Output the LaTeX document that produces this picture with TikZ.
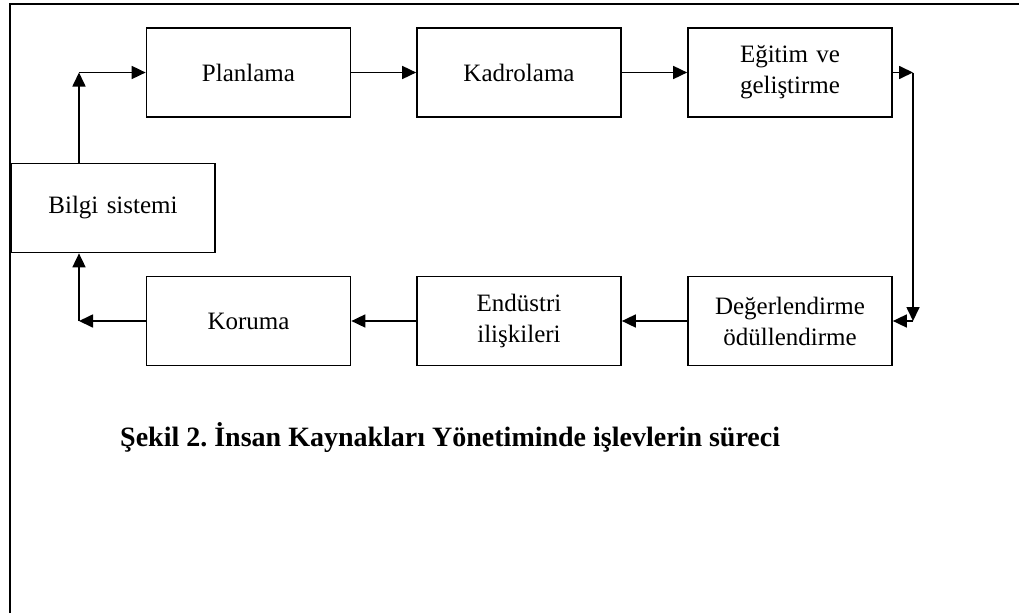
\documentclass[tikz,border=0pt]{standalone}
\usepackage{fontspec}
\setmainfont{Liberation Serif}
\usetikzlibrary{arrows.meta}
\frenchspacing

\tikzset{
  stepbox/.style={draw, line width=1.7pt, minimum width=204pt, minimum height=89pt,
    text width=190pt, align=center, font=\fontsize{25}{31}\selectfont},
  flow/.style={line width=1.7pt, ->}
}

\begin{document}
\begin{tikzpicture}[x=1pt,y=-1pt,>={Triangle[length=14pt,width=13pt]},
    every text node part/.style={align=center}]
    \useasboundingbox (0,0) rectangle (1019,613);

    % --------------------------------------------------------- %
    % ------------- frame
    % --------------------------------------------------------- %
    \draw[line width=2pt] (10,613) -- (10,4) -- (1019,4);

    % --------------------------------------------------------- %
    % ------------- top row
    % --------------------------------------------------------- %
    \node[stepbox] (bilgi) at (113,208) {Bilgi sistemi};
    \node[stepbox] (plan) at (248.5,72.5) {Planlama};
    \node[stepbox] (kadro) at (519,72.5) {Kadrolama};
    \node[stepbox] (egitim) at (790,72.5) {Eğitim ve\\geliştirme};

    % --------------------------------------------------------- %
    % ------------- bottom row
    % --------------------------------------------------------- %
    \node[stepbox] (koruma) at (248.5,321) {Koruma};
    \node[stepbox] (endustri) at (519,321) {Endüstri\\ilişkileri};
    \node[stepbox] (deger) at (790,321) {Değerlendirme\\ödüllendirme};

    % --- corners of the loop
    \coordinate (c1) at (79,72.5);
    \coordinate (c2) at (913,72.5);
    \coordinate (c3) at (913,321);
    \coordinate (c4) at (79,321);

    % --------------------------------------------------------- %
    % ------------- connectors
    % --------------------------------------------------------- %
    \draw[flow] (c1 |- bilgi.north) -- (c1);
    \draw[flow] (c1) -- (plan);
    \draw[flow] (plan) -- (kadro);
    \draw[flow] (kadro) -- (egitim);
    \draw[flow] (egitim) -- (c2);
    \draw[flow] (c2) -- (c3);
    \draw[flow] (c3) -- (deger);
    \draw[flow] (deger) -- (endustri);
    \draw[flow] (endustri) -- (koruma);
    \draw[flow] (koruma) -- (c4);
    \draw[flow] (c4) -- (c4 |- bilgi.south);

    % --------------------------------------------------------- %
    % ------------- caption
    % --------------------------------------------------------- %
    \node[anchor=base west, inner sep=0pt, font=\fontsize{28}{32}\selectfont\bfseries] (caption) at (120,446)
      {Şekil 2. İnsan Kaynakları Yönetiminde işlevlerin süreci};

\end{tikzpicture}
\end{document}
